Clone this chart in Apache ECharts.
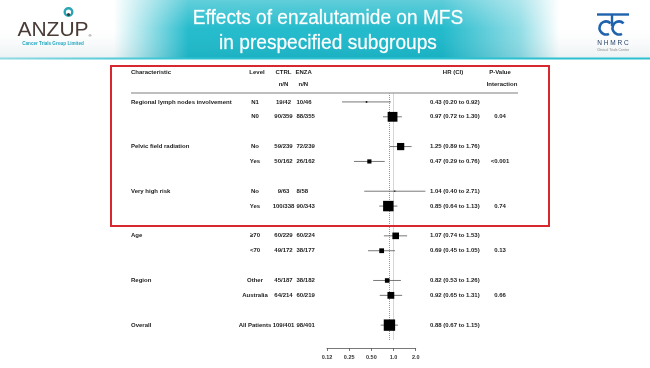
<!DOCTYPE html>
<html>
<head>
<meta charset="utf-8">
<script src="https://cdn.jsdelivr.net/npm/echarts@6/dist/echarts.min.js"></script>
<style>
html,body{margin:0;padding:0;background:#fff;}
#c{width:650px;height:368px;}
</style>
</head>
<body>
<div id="c"></div>
<script>
// ---- data ----
const characteristics = ['Regional lymph nodes involvement','', null, 'Pelvic field radiation','', null, 'Very high risk','', null, 'Age','', null, 'Region','', null, 'Overall'];
const levels = ['N1','N0', null, 'No','Yes', null, 'No','Yes', null, '\u226570','<70', null, 'Other','Australia', null, 'All Patients'];
const ctrl = ['19/42','90/359', null, '59/239','50/162', null, '9/63','100/338', null, '60/229','49/172', null, '45/187','64/214', null, '109/401'];
const enza = ['10/46','88/355', null, '72/239','26/162', null, '8/58','90/343', null, '60/224','38/177', null, '38/182','60/219', null, '98/401'];
const hr = [0.43, 0.97, null, 1.25, 0.47, null, 1.04, 0.85, null, 1.07, 0.69, null, 0.82, 0.92, null, 0.88];
const lower = [0.20, 0.72, null, 0.89, 0.29, null, 0.40, 0.64, null, 0.74, 0.45, null, 0.53, 0.65, null, 0.67];
const upper = [0.92, 1.30, null, 1.76, 0.76, null, 2.71, 1.13, null, 1.53, 1.05, null, 1.26, 1.31, null, 1.15];
const pInteraction = ['', '0.04', null, '', '<0.001', null, '', '0.74', null, '', '0.13', null, '', '0.66', null, ''];
const tickLabels = ['0.12','0.25','0.50','1.0','2.0'];
const overallHR = 0.88;
const titleLines = ['Effects of enzalutamide on MFS', 'in prespecified subgroups'];

// ---- helpers ----
function events(s){ return s ? parseInt(s.split('/')[0], 10) : 0; }
const fmt = v => v.toFixed(2);

const plotData = [];
hr.forEach((h, i) => {
  if (h == null) return;
  const ev = events(ctrl[i]) + events(enza[i]);
  plotData.push([i, h, lower[i], upper[i], Math.max(1.2, ev * 0.055)]);
});

const chart = echarts.init(document.getElementById('c'), null, {renderer: 'canvas'});
const FONT = '"Liberation Sans", Arial, sans-serif';

function refLine(value, color, width, type) {
  return {
    type: 'line', data: [], z: 1, color: color,
    lineStyle: {color: color},
    markLine: {
      z: 1, silent: true, symbol: ['none', 'none'], label: {show: false},
      lineStyle: {color: color, width: width, type: type},
      emphasis: {disabled: true},
      data: [{xAxis: value}]
    }
  };
}

chart.setOption({
  animation: false,
  backgroundColor: '#fff',
  grid: {left: 327, right: 234.3, top: 93, bottom: 28, containLabel: false},
  xAxis: {
    type: 'log', logBase: 2, min: 0.125, max: 2,
    offset: 8,
    axisLine: {show: true, onZero: false, lineStyle: {color: '#555', width: 0.8}},
    axisTick: {show: true, inside: false, length: 3, lineStyle: {color: '#555', width: 0.8}},
    splitLine: {show: false},
    axisLabel: {
      margin: 6, fontSize: 5.5, fontWeight: 'bold', color: '#333', fontFamily: FONT,
      formatter: v => tickLabels[Math.round(Math.log2(v)) + 3]
    }
  },
  yAxis: {type: 'value', inverse: true, min: -0.6, max: 16, show: false},
  series: [
    refLine(1, '#cccccc', 0.8, 'solid'),
    refLine(overallHR, '#f06c7c', 1, [1, 1]),
    {
    type: 'custom',
    clip: false,
    encode: {x: [1, 2, 3], y: 0},
    data: plotData,
    renderItem: function (params, api) {
      const row = api.value(0);
      const p = api.coord([api.value(1), row]);
      const a = api.coord([api.value(2), row]);
      const b = api.coord([api.value(3), row]);
      const sz = api.value(4);
      return {type: 'group', children: [
        {type: 'line', shape: {x1: a[0], y1: p[1], x2: b[0], y2: p[1]}, style: {stroke: '#555', lineWidth: 0.8}},
        {type: 'rect', shape: {x: p[0] - sz / 2, y: p[1] - sz / 2, width: sz, height: sz}, style: {fill: '#000'}}
      ]};
    },
    z: 6
  }]
});

// ---- graphics: banner, logos, table text ----
const yOf = r => chart.convertToPixel({yAxisIndex: 0}, r);
const g = [];

// banner
g.push({type: 'rect', shape: {x: 0, y: 0, width: 650, height: 58}, z: 0,
  style: {fill: new echarts.graphic.LinearGradient(0, 0, 1, 0, [
    {offset: 0, color: '#ffffff'}, {offset: 0.175, color: '#ffffff'},
    {offset: 0.29, color: '#1fbacb'}, {offset: 0.68, color: '#1bb8ca'},
    {offset: 0.80, color: '#8edce5'}, {offset: 0.86, color: '#ffffff'}, {offset: 1, color: '#ffffff'}])}});
g.push({type: 'rect', shape: {x: 0, y: 0, width: 650, height: 58}, z: 1,
  style: {fill: new echarts.graphic.LinearGradient(0, 0, 0, 1, [
    {offset: 0, color: 'rgba(255,255,255,0.3)'}, {offset: 0.5, color: 'rgba(255,255,255,0.03)'},
    {offset: 1, color: 'rgba(0,80,100,0.08)'}])}});
g.push({type: 'rect', shape: {x: 0, y: 57.5, width: 650, height: 2}, z: 2,
  style: {fill: new echarts.graphic.LinearGradient(0, 0, 1, 0, [
    {offset: 0, color: '#8fdbe4'}, {offset: 0.3, color: '#2cc0d0'}, {offset: 1, color: '#2cc0d0'}])}});
titleLines.forEach((t, i) => {
  g.push({type: 'text', x: 328, y: 18 + i * 25, z: 3, scaleX: 0.91, style: {text: t, fill: '#ffffff',
    font: 'normal 21px "Liberation Sans", Arial, sans-serif',
    stroke: 'rgba(255,255,255,0.6)', lineWidth: 0.4,
    align: 'center', verticalAlign: 'middle'}});
});

// ANZUP logo
g.push({type: 'circle', shape: {cx: 68.5, cy: 12, r: 3.8}, z: 3, style: {fill: '#ffffff', stroke: '#2aa3b5', lineWidth: 2.4}});
g.push({type: 'circle', shape: {cx: 68.5, cy: 14.5, r: 1.6}, z: 4, style: {fill: '#3a3a3a'}});
g.push({type: 'text', x: 53, y: 30, z: 3, style: {text: 'ANZUP', fill: '#4a3b36',
  font: 'normal 21px "Liberation Sans", Arial, sans-serif', align: 'center', verticalAlign: 'middle'}});
g.push({type: 'text', x: 88.5, y: 36, z: 3, style: {text: '\u00ae', fill: '#4a3b36',
  font: 'normal 4px "Liberation Sans", Arial, sans-serif', align: 'left', verticalAlign: 'middle'}});
g.push({type: 'text', x: 53, y: 44, z: 3, style: {text: 'Cancer Trials Group Limited', fill: '#22a8c0',
  font: 'bold 4.6px "Liberation Sans", Arial, sans-serif', align: 'center', verticalAlign: 'middle'}});

// NHMRC logo
const nb = '#1f63ad';
g.push({type: 'line', shape: {x1: 597, y1: 14.5, x2: 629, y2: 14.5}, z: 3, style: {stroke: nb, lineWidth: 2.4}});
g.push({type: 'line', shape: {x1: 612, y1: 14.5, x2: 612, y2: 26}, z: 3, style: {stroke: nb, lineWidth: 2.4}});
g.push({type: 'arc', shape: {cx: 606, cy: 28, r: 6.5, startAngle: Math.PI * 0.35, endAngle: Math.PI * 1.75, clockwise: true}, z: 3, style: {stroke: nb, lineWidth: 2.6, fill: null}});
g.push({type: 'arc', shape: {cx: 619, cy: 28, r: 6.5, startAngle: Math.PI * 0.35, endAngle: Math.PI * 1.75, clockwise: true}, z: 3, style: {stroke: nb, lineWidth: 2.6, fill: null}});
g.push({type: 'text', x: 613, y: 43, z: 3, style: {text: 'N H M R C', fill: '#243f66',
  font: 'normal 6.5px "Liberation Sans", Arial, sans-serif', align: 'center', verticalAlign: 'middle'}});
g.push({type: 'text', x: 613, y: 50, z: 3, style: {text: 'Clinical Trials Centre', fill: '#888',
  font: 'normal 3.5px "Liberation Sans", Arial, sans-serif', align: 'center', verticalAlign: 'middle'}});

// red highlight box
g.push({type: 'rect', shape: {x: 111, y: 66, width: 438, height: 160}, z: 5,
  style: {fill: null, stroke: '#d8282f', lineWidth: 2}});

// table header
const TF = 'bold 6px "Liberation Sans", Arial, sans-serif';
const col = {ch: 131, lv: 255, ct: 283.5, en: 296.5, hr: 430, hrHead: 453, p: 500};
function txt(t, x, y, align) {
  if (t == null || t === '') return;
  g.push({type: 'text', x: x, y: y, z: 4, style: {text: t, fill: '#222', font: TF, align: align, verticalAlign: 'middle'}});
}
txt('Characteristic', col.ch, 72, 'left');
txt('Level', col.lv + 2, 72, 'center');
txt('CTRL', col.ct, 72, 'center');
txt('ENZA', col.en - 1, 72, 'left');
txt('HR (CI)', col.hrHead, 72, 'center');
txt('P-Value', col.p, 72, 'center');
txt('n/N', col.ct, 84, 'center');
txt('n/N', col.en + 2, 84, 'left');
txt('Interaction', col.p + 2, 84, 'center');
g.push({type: 'line', shape: {x1: 131, y1: 93, x2: 518, y2: 93}, z: 4, style: {stroke: '#a8a8a8', lineWidth: 1.6}});

// rows
for (let i = 0; i < hr.length; i++) {
  if (hr[i] == null) continue;
  const y = yOf(i);
  txt(characteristics[i], col.ch, y, 'left');
  txt(levels[i], col.lv, y, 'center');
  txt(ctrl[i], col.ct, y, 'center');
  txt(enza[i], col.en, y, 'left');
  txt(fmt(hr[i]) + ' (' + fmt(lower[i]) + ' to ' + fmt(upper[i]) + ')', col.hr, y, 'left');
  txt(pInteraction[i], col.p, y, 'center');
}

chart.setOption({graphic: {elements: g}});
</script>
</body>
</html>
